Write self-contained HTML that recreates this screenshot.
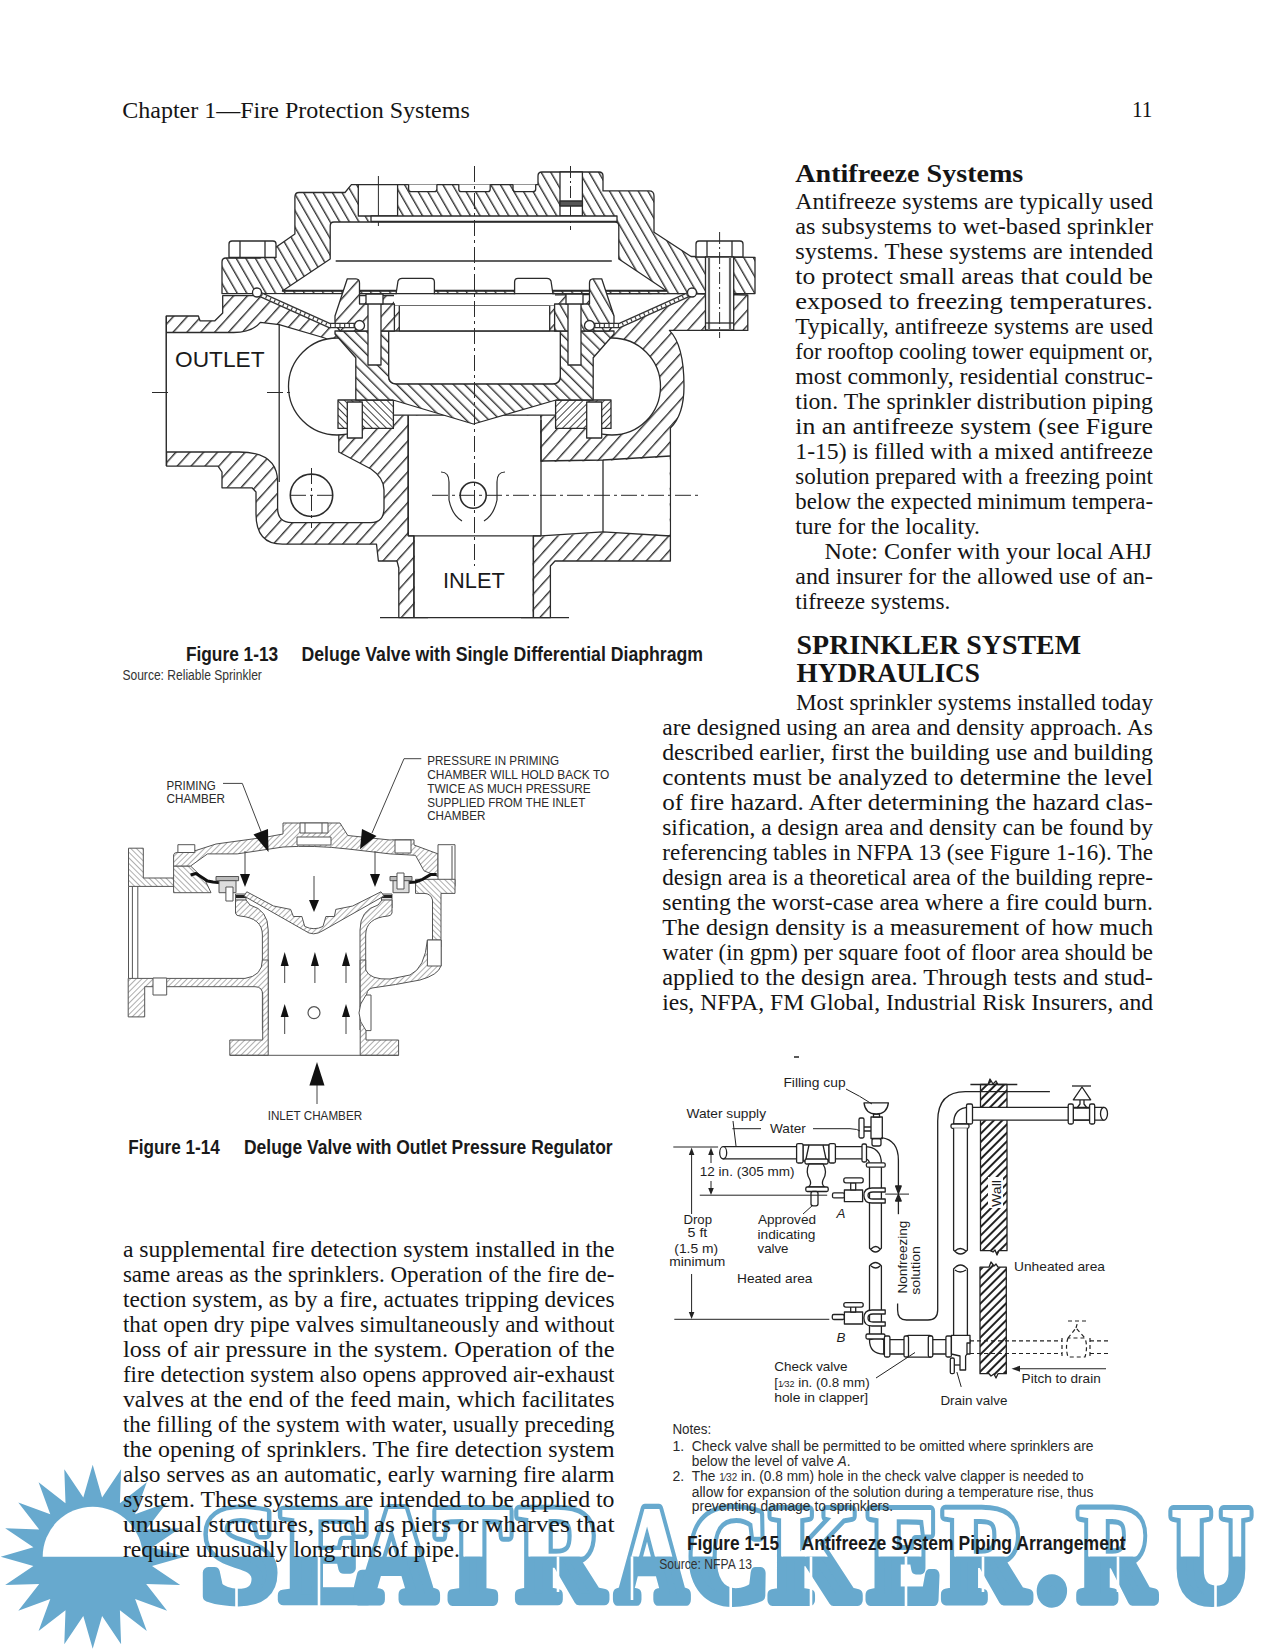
<!DOCTYPE html>
<html><head><meta charset="utf-8"><title>Fire Protection Systems</title>
<style>html,body{margin:0;padding:0;background:#fff;} svg{display:block;}</style></head>
<body>
<svg width="1275" height="1650" viewBox="0 0 1275 1650">
<rect width="1275" height="1650" fill="#fff"/>
<defs>
<pattern id="hB" patternUnits="userSpaceOnUse" width="8.3" height="10" patternTransform="rotate(-30)"><rect width="8.3" height="10" fill="#fff"/><line x1="0.7" y1="0" x2="0.7" y2="10" stroke="#333" stroke-width="1.4"/></pattern>
<pattern id="hF" patternUnits="userSpaceOnUse" width="10.3" height="10" patternTransform="rotate(42)"><rect width="10.3" height="10" fill="#fff"/><line x1="0.7" y1="0" x2="0.7" y2="10" stroke="#333" stroke-width="1.4"/></pattern>
<pattern id="hC" patternUnits="userSpaceOnUse" width="8" height="10" patternTransform="rotate(-45)"><rect width="8" height="10" fill="#fff"/><line x1="0.7" y1="0" x2="0.7" y2="10" stroke="#333" stroke-width="1.4"/></pattern>
<pattern id="hB2" patternUnits="userSpaceOnUse" width="5" height="5" patternTransform="rotate(-45)"><rect width="5" height="5" fill="#fff"/><line x1="0.5" y1="0" x2="0.5" y2="5" stroke="#444" stroke-width="1"/></pattern>
<pattern id="hF2" patternUnits="userSpaceOnUse" width="5" height="5" patternTransform="rotate(45)"><rect width="5" height="5" fill="#fff"/><line x1="0.5" y1="0" x2="0.5" y2="5" stroke="#444" stroke-width="1"/></pattern>
<pattern id="hL" patternUnits="userSpaceOnUse" width="4" height="4" patternTransform="rotate(45)"><rect width="4" height="4" fill="#fff"/><line x1="0.5" y1="0" x2="0.5" y2="4" stroke="#999" stroke-width="0.8"/></pattern>
<pattern id="hW" patternUnits="userSpaceOnUse" width="6" height="6" patternTransform="rotate(45)"><rect width="6" height="6" fill="#fff"/><line x1="1" y1="0" x2="1" y2="6" stroke="#222" stroke-width="2"/></pattern>
<pattern id="hL2" patternUnits="userSpaceOnUse" width="4" height="4" patternTransform="rotate(-45)"><rect width="4" height="4" fill="#fff"/><line x1="0.5" y1="0" x2="0.5" y2="4" stroke="#999" stroke-width="0.8"/></pattern>
</defs>

<g id="wm">
<clipPath id="wmTop"><rect x="0" y="1400" width="1275" height="156.5"/></clipPath>
<polygon points="184.7,1556.7 152.0,1547.3 180.2,1528.3 146.2,1529.5 167.1,1502.6 135.1,1514.3 146.8,1482.3 119.9,1503.2 121.1,1469.2 102.1,1497.4 92.7,1464.7 83.3,1497.4 64.3,1469.2 65.5,1503.2 38.6,1482.3 50.3,1514.3 18.3,1502.6 39.2,1529.5 5.2,1528.3 33.4,1547.3 0.7,1556.7 33.4,1566.1 5.2,1585.1 39.2,1583.9 18.3,1610.8 50.3,1599.1 38.6,1631.1 65.5,1610.2 64.3,1644.2 83.3,1616.0 92.7,1648.7 102.1,1616.0 121.1,1644.2 119.9,1610.2 146.8,1631.1 135.1,1599.1 167.1,1610.8 146.2,1583.9 180.2,1585.1 152.0,1566.1" fill="#67a9ce"/>
<path d="M42.7,1556.7 A50,50 0 0 1 142.7,1556.7 Z" fill="#fff"/>
<g font-family="Liberation Serif" font-weight="bold" font-size="136" fill="#67a9ce" stroke="#67a9ce" stroke-width="11" stroke-linejoin="round">
<text transform="translate(200.88,1599.5) scale(1.0161,1)" vector-effect="non-scaling-stroke">S</text><text transform="translate(280.88,1599.5) scale(1.0494,1)" vector-effect="non-scaling-stroke">E</text><text transform="translate(357.30,1599.5) scale(0.8021,1)" vector-effect="non-scaling-stroke">A</text><text transform="translate(435.44,1599.5) scale(0.8256,1)" vector-effect="non-scaling-stroke">T</text><text transform="translate(517.31,1599.5) scale(0.8763,1)" vector-effect="non-scaling-stroke">R</text><text transform="translate(616.42,1599.5) scale(0.7188,1)" vector-effect="non-scaling-stroke">A</text><text transform="translate(688.12,1599.5) scale(0.8272,1)" vector-effect="non-scaling-stroke">C</text><text transform="translate(770.42,1599.5) scale(0.8333,1)" vector-effect="non-scaling-stroke">K</text><text transform="translate(868.52,1599.5) scale(0.7901,1)" vector-effect="non-scaling-stroke">E</text><text transform="translate(943.36,1599.5) scale(0.8557,1)" vector-effect="non-scaling-stroke">R</text><text transform="translate(1036.62,1599.5) scale(0.9048,1)" vector-effect="non-scaling-stroke">.</text><text transform="translate(1078.59,1599.5) scale(0.7629,1)" vector-effect="non-scaling-stroke">R</text><text transform="translate(1170.62,1599.5) scale(0.8242,1)" vector-effect="non-scaling-stroke">U</text>
</g>
<g clip-path="url(#wmTop)" font-family="Liberation Serif" font-weight="bold" font-size="136" fill="#fff" stroke="#fff" stroke-width="2">
<text transform="translate(200.88,1599.5) scale(1.0161,1)">S</text><text transform="translate(280.88,1599.5) scale(1.0494,1)">E</text><text transform="translate(357.30,1599.5) scale(0.8021,1)">A</text><text transform="translate(435.44,1599.5) scale(0.8256,1)">T</text><text transform="translate(517.31,1599.5) scale(0.8763,1)">R</text><text transform="translate(616.42,1599.5) scale(0.7188,1)">A</text><text transform="translate(688.12,1599.5) scale(0.8272,1)">C</text><text transform="translate(770.42,1599.5) scale(0.8333,1)">K</text><text transform="translate(868.52,1599.5) scale(0.7901,1)">E</text><text transform="translate(943.36,1599.5) scale(0.8557,1)">R</text><text transform="translate(1036.62,1599.5) scale(0.9048,1)">.</text><text transform="translate(1078.59,1599.5) scale(0.7629,1)">R</text><text transform="translate(1170.62,1599.5) scale(0.8242,1)">U</text>
</g>
<g fill="#fff"><rect x="235.2" y="1586" width="2.6" height="22"/><rect x="317.7" y="1556.5" width="2.6" height="51.5"/><rect x="556.7" y="1556.5" width="2.6" height="35.5"/><rect x="630.7" y="1556.5" width="2.6" height="43.5"/><rect x="729.4" y="1584" width="2.6" height="24"/><rect x="809.7" y="1556.5" width="2.6" height="51.5"/><rect x="904.7" y="1556.5" width="2.6" height="51.5"/><rect x="981.7" y="1556.5" width="2.6" height="35.5"/><rect x="1116.7" y="1556.5" width="2.6" height="35.5"/><rect x="1214.2" y="1556.5" width="2.6" height="51.5"/></g>
</g>

<g id="fig13" stroke="#2b2b2b" stroke-width="1.3" stroke-linejoin="round">
<!-- body silhouette -->
<path fill="url(#hF)" d="M166.3,316 L198.4,316 L200,320.8 L214.9,320.8 L222.7,313 L222.7,295.7 L257,295.7 L474.5,295.7 L689.4,293.6 L747.8,295 L747.8,330.4 L669.4,330.4 Q684,345 684,386 Q684,415 670.4,428 L670.4,561 L555,561 L550.4,566 L550.4,617.6 L533.4,617.6 L413.9,617.6 L398.8,617.6 L398.8,568 L397,561 L378.4,561 L376.5,544.2 L282.4,544.2 Q256,544.2 256,514 L256,492 L252,487.8 L222,487.8 L222,472 L218,466.1 L166.6,466.1 Z"/>
<!-- cover -->
<path fill="url(#hB)" fill-rule="evenodd" d="M222,293.6 L222,262 Q222,258 226,258 L260.4,258 L294.9,234 L294.9,197 Q294.9,192.5 299,192.5 L345,192.5 L351.4,184.6 L538,184.6 L538,176 Q538,172 542,172 L599,172 Q603,172 603,176 L603,190.9 L649,190.9 Q654,190.9 654,196 L654,232.3 L691.1,256.5 L755,257.3 L755,293.6 Z M282.4,291 L330.2,259 L330.2,226 Q330.2,222 334,222 L615,222 Q618.8,222 618.8,226 L618.8,259 L666.6,291 Z"/>
<!-- cover details -->
<rect x="358.3" y="184.6" width="39.3" height="31.4" fill="#fff"/>
<line x1="378.4" y1="176" x2="378.4" y2="226" stroke-width="1"/>
<rect x="560" y="172" width="22.4" height="44" fill="#fff"/>
<line x1="570.5" y1="166" x2="570.5" y2="230" stroke-width="1" stroke-dasharray="12,3,2,3"/>
<rect x="560" y="201" width="22.4" height="5" fill="#555"/>
<path fill="#fff" d="M408.6,184.6 L408.6,189 Q408.6,191.7 411,191.7 L434.5,191.7 Q436.9,191.7 436.9,189 L436.9,184.6 M458.8,184.6 L458.8,189 Q458.8,191.7 461,191.7 L488,191.7 Q490.2,191.7 490.2,189 L490.2,184.6 M513,184.6 L513,189 Q513,191.7 515.5,191.7 L533,191.7 Q535.7,191.7 535.7,189 L535.7,184.6"/>
<rect x="371" y="216" width="246" height="5.5" fill="#fff"/>
<line x1="335.7" y1="261" x2="611.8" y2="261"/>
<line x1="282" y1="290.5" x2="667" y2="290.5"/>
<line x1="282" y1="293.6" x2="667" y2="293.6"/>
<!-- bolts top -->
<path fill="#fff" d="M229,257.5 L229,244 Q229,241 232,241 L273,241 Q276,241 276,244 L276,257.5 Z M240,241 L240,257.5 M265,241 L265,257.5"/>
<path fill="#fff" d="M696,257 L696,244 Q696,241 699,241 L740,241 Q743,241 743,244 L743,257 Z M707,241 L707,257 M732,241 L732,257"/>
<rect x="705.5" y="257" width="28.2" height="73" fill="#fff"/>
<line x1="709" y1="257" x2="709" y2="330" stroke-width="2.2" stroke="#666"/>
<line x1="730" y1="257" x2="730" y2="330" stroke-width="2.2" stroke="#666"/>
<line x1="719.6" y1="232" x2="719.6" y2="338" stroke-width="1" stroke-dasharray="12,3,2,3"/>
<line x1="705.5" y1="323" x2="733.7" y2="323"/>
<!-- white chamber over diaphragm (left/right) -->
<path fill="#fff" stroke="none" d="M258,294.5 L329.4,325.5 L356,325.5 L356,294.5 Z"/>
<path fill="#fff" stroke="none" d="M691,294.5 L619.6,325.5 L593,325.5 L593,294.5 Z"/>
<!-- outlet void -->
<path fill="#fff" d="M166.3,332.5 L233.7,332.5 Q252,332.5 260.4,322.4 L279.2,324.7 L324.7,338 L338.8,345 L338.8,452 L371,469 Q384,478 384,490 L384,508 Q384,522.6 370.8,522.6 L291.8,522.6 Q277.6,522.6 277.6,508 L277.6,482 Q277.6,452 239,452 L166.6,452"/>
<line x1="279.2" y1="324.7" x2="279.2" y2="482"/>
<circle cx="337" cy="386.5" r="48.5" fill="#fff"/>
<!-- right sphere -->
<circle cx="612" cy="386.5" r="48.5" fill="#fff"/>
<!-- inlet void -->
<path fill="#fff" stroke="none" d="M409,415.5 L540,415.5 L540,462 L603,461 L669.6,457 L669.6,535 L603,532.6 L540,536.6 L532.6,536.6 L532.6,617 L414.7,617 L414.7,536.6 L409,536.6 Z"/>
<path fill="none" d="M408.2,415 L408.2,535.8 L413.9,535.8 L413.9,617.6 M533.4,617.6 L533.4,535.8 L541,535.8 L603,531.9 L670.4,536 M670.4,456 L603,460 L541,461 L541,420"/>
<line x1="541" y1="415" x2="541" y2="535.8"/>
<line x1="603" y1="460" x2="603" y2="532"/>
<line x1="408.2" y1="535.8" x2="541" y2="535.8"/>
<line x1="413.9" y1="535.8" x2="413.9" y2="617.6"/>
<line x1="533.4" y1="535.8" x2="533.4" y2="617.6"/>
<line x1="408.2" y1="415" x2="408.2" y2="535.8"/>
<!-- seat plate -->
<rect x="393" y="400" width="163" height="15.2" fill="#fff"/>
<!-- seat rings -->
<rect x="338" y="400" width="55.4" height="28.4" fill="url(#hB2)"/>
<rect x="555.6" y="400" width="55.4" height="28.4" fill="url(#hF2)"/>
<rect x="347.3" y="402" width="15" height="36" fill="#fff"/>
<rect x="586.7" y="402" width="15" height="36" fill="#fff"/>
<!-- clapper -->
<path fill="url(#hC)" d="M335,331 L388.7,331 L388.7,376 Q388.7,383.8 396,383.8 L553,383.8 Q560.3,383.8 560.3,376 L560.3,331 L614,331 L614,334 L593.2,357.8 L593.2,400 L556,400 L473.4,424 L393,400 L355.8,400 L355.8,357.8 L335,334 Z"/>
<path fill="#fff" d="M388.7,331 L388.7,376 Q388.7,383.8 396,383.8 L553,383.8 Q560.3,383.8 560.3,376 L560.3,331 Z"/>
<rect x="399.3" y="305.4" width="150.4" height="25.4" fill="#fff"/>
<path fill="#fff" d="M394.4,305 L398,281 Q399,278.4 402,278.4 L431,278.4 Q434.4,278.4 434.4,282 L434.4,305 Z"/>
<path fill="#fff" d="M554.6,305 L551,281 Q550,278.4 547,278.4 L518,278.4 Q514.6,278.4 514.6,282 L514.6,305 Z"/>
<rect x="394" y="294.3" width="161" height="11" fill="#fff" stroke="none"/>
<line x1="394" y1="293.6" x2="555" y2="293.6"/>
<!-- clamps -->
<path fill="url(#hF)" d="M347.3,278.8 L356,278.8 Q359.5,279 359.5,283 L359.5,304 L394.4,304 L394.4,331 L340,331 L335,324 L335,316 Z"/>
<path fill="url(#hB)" d="M601.7,278.8 L593,278.8 Q589.5,279 589.5,283 L589.5,304 L554.6,304 L554.6,331 L609,331 L614,324 L614,316 Z"/>
<rect x="368" y="294" width="13" height="71" fill="#fff"/>
<rect x="366" y="294" width="17" height="10" fill="#fff"/>
<rect x="568" y="294" width="13" height="71" fill="#fff"/>
<rect x="566" y="294" width="17" height="10" fill="#fff"/>
<!-- diaphragm -->
<path fill="none" stroke="#333" stroke-width="5.5" d="M257,293 L329.4,325.5 L358,325.5"/>
<path fill="none" stroke="#fff" stroke-width="3" d="M257,293 L329.4,325.5 L358,325.5"/>
<path fill="none" stroke="#444" stroke-width="3" stroke-dasharray="1.2,3.5" d="M257,293 L329.4,325.5 L358,325.5"/>
<path fill="none" stroke="#333" stroke-width="5.5" d="M692,293 L619.6,325.5 L591,325.5"/>
<path fill="none" stroke="#fff" stroke-width="3" d="M692,293 L619.6,325.5 L591,325.5"/>
<path fill="none" stroke="#444" stroke-width="3" stroke-dasharray="1.2,3.5" d="M692,293 L619.6,325.5 L591,325.5"/>
<circle cx="257" cy="292.5" r="4.5" fill="#fff"/>
<circle cx="359.5" cy="325.5" r="5" fill="#fff"/>
<circle cx="692" cy="292.5" r="4.5" fill="#fff"/>
<circle cx="589.5" cy="325.5" r="5" fill="#fff"/>
<!-- inlet flange bottom ledges -->
<line x1="380" y1="617.6" x2="428" y2="617.6"/>
<line x1="521" y1="617.6" x2="569" y2="617.6"/>
<!-- small circles -->
<circle cx="311.5" cy="495.3" r="21.2" fill="none" stroke-width="1.6"/>
<circle cx="473.2" cy="495.3" r="13" fill="none" stroke-width="1.6"/>
<path fill="none" stroke-width="1.2" d="M441,472 Q449,472 449,482 L449,500 Q452,515 462,521 M505,472 Q497,472 497,482 L497,500 Q494,515 484,521"/>
<!-- center lines -->
<g stroke-width="1" stroke-dasharray="16,4,3,4">
<line x1="474.5" y1="166" x2="474.5" y2="566"/>
<line x1="432" y1="495.3" x2="700" y2="495.3"/>
<line x1="290" y1="495.3" x2="336" y2="495.3"/>
<line x1="311.5" y1="468" x2="311.5" y2="528"/>
<line x1="152" y1="392.5" x2="172" y2="392.5"/>
<line x1="267" y1="392.5" x2="290" y2="392.5"/>
</g>
<line x1="166.3" y1="316" x2="166.3" y2="466.1"/>
<g font-family="Liberation Sans" font-size="22.5" fill="#1a1a1a" stroke="none">
<text x="175" y="367.3" textLength="89.5" lengthAdjust="spacingAndGlyphs">OUTLET</text>
<text x="443" y="587.5" textLength="61.7" lengthAdjust="spacingAndGlyphs">INLET</text>
</g>
</g>

<g id="fig14" stroke="#555" stroke-width="1" stroke-linejoin="round">
<!-- outlet flange upper -->
<path fill="url(#hL2)" d="M128.5,848.2 L143.3,848.2 L143.3,878 L176,878 L176,886.4 L128.5,886.4 Z"/>
<!-- cover left body piece -->
<path fill="url(#hL2)" d="M173.6,866 L190.6,866 L205,880 L211,892.7 L173.6,892.7 Z"/>
<!-- cover arch -->
<path fill="url(#hL)" d="M173.6,866 L173.6,855 Q174,852.5 177,852.5 L196.2,850.4 L216,844 L266.8,837 L283,834 L283,823 L340,823 L347.8,835.5 L390,840 L391.5,839.8 L414,839.8 L414,845 L438,853.9 L438,876.5 L424,870.8 L415.5,855.3 L390,853.9 L348,849 Q314,845 283,847 L237.2,853.9 L207.5,853.9 L190.6,866 Z"/>
<rect x="300" y="823" width="28" height="10" fill="#fff"/>
<line x1="305" y1="823" x2="305" y2="833"/><line x1="322" y1="823" x2="322" y2="833"/>
<rect x="297" y="837" width="34" height="8" fill="#fff"/>
<rect x="395" y="840" width="16" height="13" fill="#fff"/>
<!-- bolt heads -->
<rect x="177.9" y="844.7" width="16.9" height="7.8" fill="#fff"/>
<rect x="438" y="844.7" width="17" height="41.7" fill="#fff"/>
<line x1="452" y1="846" x2="452" y2="885" stroke="#888" stroke-width="1.5"/>
<!-- right flange + body -->
<path fill="url(#hL2)" d="M415.5,879.3 L455,879.3 L455,893.4 L441,893.4 L441,947 L432.5,947 L432.5,900 Q431,893.4 424,893.4 L415.5,893.4 Z"/>
<line x1="432.5" y1="945.7" x2="441" y2="945.7"/>
<!-- diaphragms -->
<path fill="none" stroke="#111" stroke-width="3" d="M190.6,875 L196,873.5 L207.5,881 L213,882 L223,883 L223,887"/>
<path fill="none" stroke="#111" stroke-width="3" d="M436.7,874.4 L431,874.4 L422.6,879.3 L415.5,882 L405.6,882.8 L405.6,886"/>
<!-- seat blocks -->
<rect x="216" y="876.5" width="22.6" height="4.2" fill="#bbb"/>
<rect x="219" y="880.7" width="17" height="12" fill="#ddd"/>
<rect x="225.9" y="887" width="7.1" height="14" fill="#fff"/>
<rect x="390" y="876.5" width="22" height="4.2" fill="#bbb"/>
<rect x="393" y="880.7" width="16" height="12" fill="#ddd"/>
<rect x="397" y="873" width="7" height="16" fill="#fff"/>
<rect x="235.5" y="894" width="10.5" height="14" fill="#ddd"/>
<rect x="381.5" y="894" width="10.5" height="14" fill="#ddd"/>
<rect x="236" y="895" width="11" height="3" fill="#222" stroke="none"/>
<rect x="381" y="895" width="11" height="3" fill="#222" stroke="none"/>
<!-- seat lower rings -->
<path fill="url(#hL)" d="M235.5,900 L235.5,913 Q236,916 240,916 Q262.4,918 262.4,935 L262.4,1030 L268.2,1030 L268.2,930 Q268.2,910 250,905 L246,900 Z"/>
<path fill="url(#hL)" d="M392,900 L392,913 Q391,916 388,916 Q365.7,918 365.7,935 L365.7,1030 L360,1030 L360,930 Q360,910 378,905 L382,900 Z"/>
<!-- dish -->
<path fill="url(#hL)" d="M246.8,891.8 L273.6,906 L290.6,909.4 L293.4,916.5 L301.9,916.5 L304.7,926.4 Q314,931 323,926.4 L325.9,916.5 L334.4,916.5 L335.8,909.4 L352.7,906 L381,891.8 L384,896 L323,930.6 Q313.2,937 304.7,930.6 L244,896 Z"/>
<!-- outlet pipe lines -->
<line x1="128.5" y1="886.4" x2="128.5" y2="978.4"/>
<line x1="132.4" y1="886.4" x2="132.4" y2="978.4"/>
<line x1="137.8" y1="886.4" x2="137.8" y2="978.4"/>
<!-- lower outlet flange + wall -->
<path fill="url(#hL)" d="M128.2,978.4 L245,978.4 Q262.4,976 262.4,960 L268.2,960 L268.2,1055.3 L229.8,1055.3 L229.8,1040 L262.7,1040 L262.7,995 Q262.7,986.7 255,986.7 L144.7,986.7 L144.7,1016.9 L128.2,1016.9 Z"/>
<rect x="153" y="978" width="13.7" height="17" fill="#fff"/>
<!-- right inlet wall + flange -->
<path fill="url(#hL)" d="M360.2,960 L365.7,960 L365.7,970 Q370,980 390,979 L410,975 Q425,968 427.4,940 L441,940 L441,966 Q438,975 420,980 Q395,985 372,988 Q366,989 366,1000 L366,1040 L398.6,1040 L398.6,1055.3 L360.2,1055.3 Z"/>
<rect x="427.4" y="940" width="13.8" height="26" fill="#fff"/>
<path fill="#fff" d="M366,995 L371,995 L371,1030.6 L366,1030.6 Q352,1013 366,995 Z"/>
<line x1="229.8" y1="1055.3" x2="398.6" y2="1055.3"/>
<!-- arrows -->
<g stroke="#444" stroke-width="1">
<line x1="245" y1="851" x2="245" y2="874"/>
<line x1="314" y1="876" x2="314" y2="900"/>
<line x1="375" y1="851" x2="375" y2="874"/>
<line x1="284.7" y1="966" x2="284.7" y2="983"/>
<line x1="314.9" y1="966" x2="314.9" y2="983"/>
<line x1="346" y1="966" x2="346" y2="983"/>
<line x1="284.7" y1="1017" x2="284.7" y2="1034"/>
<line x1="346" y1="1017" x2="346" y2="1034"/>
<line x1="317" y1="1085" x2="317" y2="1104"/>
<line x1="223" y1="783.4" x2="242.3" y2="783.4"/>
<line x1="242.3" y1="783.4" x2="262" y2="834"/>
<line x1="421.3" y1="758.7" x2="404" y2="758.7"/>
<line x1="404" y1="758.7" x2="372" y2="833"/>
</g>
<g fill="#111" stroke="none">
<path d="M240,874 L250,874 L245,887 Z"/>
<path d="M309,900 L319,900 L314,912 Z"/>
<path d="M370,874 L380,874 L375,887 Z"/>
<path d="M280.7,966 L288.7,966 L284.7,952 Z"/>
<path d="M310.9,966 L318.9,966 L314.9,952 Z"/>
<path d="M342,966 L350,966 L346,952 Z"/>
<path d="M280.7,1017 L288.7,1017 L284.7,1004 Z"/>
<path d="M342,1017 L350,1017 L346,1004 Z"/>
<path d="M309.4,1085.5 L324.5,1085.5 L317,1062 Z"/>
<path d="M253.5,834.5 L268,829 L268.5,852 Z"/>
<path d="M362,829 L376.5,836 L360,849.3 Z"/>
</g>
<circle cx="314" cy="1012.7" r="6" fill="#fff" stroke="#555" stroke-width="1.2"/>
<g font-family="Liberation Sans" font-size="12.8" fill="#2a2a2a" stroke="none">
<text x="166.5" y="789.6" textLength="49.3" lengthAdjust="spacingAndGlyphs">PRIMING</text>
<text x="166.5" y="803.2" textLength="58.5" lengthAdjust="spacingAndGlyphs">CHAMBER</text>
<text x="427.2" y="764.8" textLength="132" lengthAdjust="spacingAndGlyphs">PRESSURE IN PRIMING</text>
<text x="427.2" y="778.7" textLength="182.1" lengthAdjust="spacingAndGlyphs">CHAMBER WILL HOLD BACK TO</text>
<text x="427.2" y="792.5" textLength="163.5" lengthAdjust="spacingAndGlyphs">TWICE AS MUCH PRESSURE</text>
<text x="427.2" y="806.7" textLength="158.1" lengthAdjust="spacingAndGlyphs">SUPPLIED FROM THE INLET</text>
<text x="427.2" y="820" textLength="58.1" lengthAdjust="spacingAndGlyphs">CHAMBER</text>
<text x="267.7" y="1119.8" textLength="94.4" lengthAdjust="spacingAndGlyphs">INLET CHAMBER</text>
</g>
</g>

<g id="fig15" stroke="#222" stroke-width="1.3" fill="none" stroke-linejoin="round">
<line x1="794" y1="1057" x2="799" y2="1057" stroke-width="1.5"/>
<!-- wall -->
<path fill="url(#hW)" d="M980.5,1084.5 L988,1084.5 L990,1079 L993,1084 L996,1081 L998,1084.5 L1007,1084.5 L1007,1250.7 L999,1250.7 L997,1255 L995,1250 L993,1252 L990,1250.7 L980.5,1250.7 Z"/>
<path fill="url(#hW)" d="M980,1267.2 L989,1267.2 L991,1262 L994,1266 L996,1264 L998,1267.2 L1006.3,1267.2 L1006.3,1373.7 L998,1373.7 L996,1378 L994,1374 L991,1376 L989,1373.7 L980,1373.7 Z"/>
<line x1="970.4" y1="1084.5" x2="1017.3" y2="1084.5"/>
<rect x="988" y="1177" width="15" height="31" fill="#fff" stroke="none"/>
<!-- big outer return line -->
<path d="M1049.9,1091.6 L965.3,1091.6 Q937.7,1091.6 937.7,1121 L937.7,1310 Q937.7,1320 928,1320 L906.4,1320 Q897.6,1320 897.6,1310 L897.6,1303.4"/>
<!-- upper right pipe -->
<rect x="969.3" y="1107.3" width="134.7" height="12.9" fill="#fff"/>
<ellipse cx="1104" cy="1113.7" rx="3.5" ry="6.4" fill="#fff"/>
<path fill="#fff" d="M1073.3,1108 L1089.6,1108 L1089.6,1120 L1073.3,1120 Z"/>
<rect x="1068.2" y="1104" width="5.1" height="20" rx="1.5" fill="#fff"/>
<rect x="1089.6" y="1104" width="5.1" height="20" rx="1.5" fill="#fff"/>
<path fill="#fff" d="M1073.3,1099.8 L1090.7,1099.8 L1082,1087 Z"/>
<line x1="1072" y1="1086" x2="1091" y2="1086"/>
<path d="M1080,1100 L1080,1104 L1077,1108 M1084,1100 L1084,1104 L1087,1108"/>
<!-- right elbow + vertical pipe -->
<path fill="#fff" d="M969.3,1107.3 Q953.6,1107.3 953.6,1124 L967.4,1124 Q967.4,1120.2 969.3,1120.2 Z"/>
<rect x="966.5" y="1104" width="6" height="20" rx="1.5" fill="#fff"/>
<rect x="951" y="1124" width="18" height="4.3" rx="1.5" fill="#fff"/>
<path fill="#fff" d="M953.6,1128.3 L953.6,1250 Q960.5,1258 967.4,1250 L967.4,1128.3"/>
<path d="M955,1251 Q960,1246 966,1251"/>
<path fill="#fff" d="M953.6,1336.4 L953.6,1269 Q960.5,1261 967.4,1269 L967.4,1336.4"/>
<path d="M955,1270 Q960,1274 966,1270"/>
<!-- left vertical pipe -->
<path fill="#fff" d="M869.5,1164 L869.5,1248 Q875.5,1256 881.4,1248 L881.4,1164"/>
<path d="M871,1249 Q876,1244 880,1249"/>
<path fill="#fff" d="M869.5,1340 L869.5,1266 Q875.5,1259 881.4,1266 L881.4,1340"/>
<path d="M871,1266 Q876,1270 880,1266"/>
<!-- supply pipe -->
<rect x="723.2" y="1146.7" width="140.8" height="12.2" fill="#fff"/>
<ellipse cx="723.2" cy="1152.8" rx="3.5" ry="6.1" fill="#fff"/>
<path fill="#fff" d="M803,1145 L829,1145 L829,1161 L803,1161 Z"/>
<path d="M809,1145 L806,1159 M823,1145 L826,1159"/>
<rect x="796.6" y="1143.6" width="6.4" height="19.4" rx="1.5" fill="#fff"/>
<rect x="829" y="1143.6" width="6.4" height="19.4" rx="1.5" fill="#fff"/>
<!-- elbow left -->
<path fill="#fff" d="M864,1146.7 Q881.4,1146.7 881.4,1164 L869.5,1164 Q869.5,1158.9 864,1158.9 Z"/>
<rect x="862" y="1144" width="4.5" height="18" rx="1.5" fill="#fff"/>
<rect x="866.4" y="1162.8" width="18.8" height="4.4" rx="1.5" fill="#fff"/>
<!-- cup valve + cup -->
<rect x="872" y="1138.5" width="9" height="7.5" rx="2" fill="#fff"/>
<rect x="871" y="1117" width="11.3" height="21.5" fill="#fff"/>
<rect x="859" y="1118" width="5" height="20" rx="1.5" fill="#fff"/>
<path d="M864,1127 L871,1127 M864,1131 L871,1131"/>
<rect x="873.5" y="1114" width="6" height="3" fill="#fff"/>
<path fill="#fff" d="M864,1102.8 L888.4,1102.8 Q887,1114 876.2,1114 Q865.4,1114 864,1102.8 Z"/>
<!-- return line with arrows -->
<path d="M881.4,1137.7 Q898.4,1140 898.4,1160.3 L898.4,1187"/>
<path fill="#222" d="M895.6,1186 L901.2,1186 L898.4,1193.5 Z"/>
<path d="M898.4,1214.2 L898.4,1200"/>
<path fill="#222" d="M895.6,1201 L901.2,1201 L898.4,1194.5 Z"/>
<line x1="885.2" y1="1194.1" x2="909" y2="1194.1" stroke-width="1"/>
<!-- U clamp A -->
<path fill="#fff" d="M885.2,1188 L872,1188 Q863.9,1188 863.9,1195.5 Q863.9,1203 872,1203 L885.2,1203 L885.2,1199 L873,1199 Q868,1199 868,1195.5 Q868,1192 873,1192 L885.2,1192 Z"/>
<!-- valve A -->
<rect x="832.5" y="1192.9" width="12" height="5" rx="1.5" fill="#fff"/>
<path fill="#fff" d="M844.4,1190 L862.6,1190 L862.6,1201.7 L844.4,1201.7 Z"/>
<rect x="850.7" y="1182.8" width="5" height="7" fill="#fff"/>
<rect x="843.8" y="1177.8" width="19.4" height="5" rx="2" fill="#fff"/>
<!-- approved valve -->
<rect x="805" y="1159" width="23" height="5" rx="1.5" fill="#fff"/>
<path fill="#fff" d="M809,1164 L823,1164 Q828,1172 823,1180 Q821,1185 825,1187 L808,1187 Q812,1185 810,1180 Q805,1172 809,1164 Z"/>
<rect x="805.8" y="1187" width="22.4" height="4.5" rx="1.5" fill="#fff"/>
<rect x="811" y="1191.5" width="7" height="14.3" rx="2" fill="#fff"/>
<line x1="813" y1="1205" x2="803" y2="1214" stroke-width="1"/>
<!-- dimension lines -->
<g stroke-width="1">
<line x1="673.3" y1="1147" x2="718.1" y2="1147"/>
<line x1="699.8" y1="1195.2" x2="827.2" y2="1195.2"/>
<line x1="674.3" y1="1319.3" x2="829.3" y2="1319.3"/>
<line x1="691.6" y1="1152" x2="691.6" y2="1214"/>
<line x1="691.6" y1="1274" x2="691.6" y2="1313"/>
<line x1="711" y1="1152" x2="711" y2="1163"/>
<line x1="711" y1="1181" x2="711" y2="1190"/>
</g>
<g fill="#222" stroke="none">
<path d="M688.8,1155 L694.4,1155 L691.6,1147.5 Z"/>
<path d="M688.8,1312 L694.4,1312 L691.6,1319 Z"/>
<path d="M708.2,1155 L713.8,1155 L711,1147.5 Z"/>
<path d="M708.2,1188 L713.8,1188 L711,1195 Z"/>
</g>
<!-- lower assembly -->
<path fill="#fff" d="M869.5,1340 Q869.5,1354 884,1354 L884,1339.7 Q881.4,1339.7 881.4,1336 Z"/>
<rect x="866" y="1334" width="19" height="5" rx="1.5" fill="#fff"/>
<path fill="#fff" d="M885.2,1310 L872,1310 Q863.9,1310 863.9,1318 Q863.9,1326 872,1326 L885.2,1326 L885.2,1322 L873,1322 Q868,1322 868,1318 Q868,1314 873,1314 L885.2,1314 Z"/>
<rect x="832.3" y="1314.5" width="12" height="5" rx="1.5" fill="#fff"/>
<path fill="#fff" d="M844.4,1312 L862.6,1312 L862.6,1324 L844.4,1324 Z"/>
<rect x="850.7" y="1305" width="5" height="7" fill="#fff"/>
<rect x="843.8" y="1302.6" width="19.4" height="4.5" rx="2" fill="#fff"/>
<rect x="884" y="1339.7" width="86" height="14.3" fill="#fff"/>
<rect x="906.4" y="1335.3" width="25.2" height="21.9" rx="2" fill="#fff"/>
<rect x="884.4" y="1336" width="5.5" height="21" rx="1.5" fill="#fff"/>
<rect x="904" y="1336" width="4.5" height="21" rx="1.5" fill="#fff"/>
<rect x="928.3" y="1336" width="4.5" height="21" rx="1.5" fill="#fff"/>
<rect x="945.9" y="1336" width="5.5" height="21" rx="1.5" fill="#fff"/>
<path fill="#fff" d="M951.4,1335.3 L970,1335.3 L970,1343 L967,1343 L967,1354 L965.6,1356 L965.6,1370 L960,1370 L960,1356 L951.4,1354 Z"/>
<rect x="950.3" y="1358" width="4" height="15.7" rx="1.5" fill="#fff"/>
<line x1="954.3" y1="1365" x2="960" y2="1365"/>
<!-- dashed pipe -->
<g stroke-dasharray="4,3" stroke-width="1.2">
<line x1="970" y1="1340.8" x2="1062" y2="1340.8"/>
<line x1="970" y1="1353.5" x2="1062" y2="1353.5"/>
<path d="M1062,1338 L1062,1357 M1068,1338 Q1065,1347 1068,1357 L1085,1357 Q1088,1347 1085,1338 Z M1068,1338 L1076,1328 L1085,1338 M1068,1321 L1088,1321 M1076,1328 L1078,1321 M1090,1338 L1090,1357 M1090,1340.8 L1108,1340.8 M1090,1353.5 L1108,1353.5"/>
</g>
<!-- pitch arrow -->
<line x1="1106" y1="1368.7" x2="1018" y2="1368.7" stroke-width="1.1"/>
<path fill="#222" stroke="none" d="M1011.5,1368.7 L1020,1365.7 L1020,1371.7 Z"/>
<!-- leaders -->
<g stroke-width="1">
<path d="M846,1089 Q860,1096 872,1104"/>
<path d="M733,1121 L736,1146"/>
<line x1="732.4" y1="1128.7" x2="761" y2="1128.7"/>
<path d="M813,1128.7 L850,1128.7 Q858,1129 860,1131"/>
<line x1="876" y1="1378" x2="915" y2="1352.5"/>
<line x1="961.2" y1="1386.9" x2="956.9" y2="1372"/>
</g>
<!-- labels -->
<g font-family="Liberation Sans" font-size="13.4" fill="#1e1e1e" stroke="none">
<text x="783.4" y="1086.5" textLength="62.2" lengthAdjust="spacingAndGlyphs">Filling cup</text>
<text x="686.5" y="1118.1" textLength="79.5" lengthAdjust="spacingAndGlyphs">Water supply</text>
<text x="770" y="1132.8" textLength="35.8" lengthAdjust="spacingAndGlyphs">Water</text>
<text x="699.8" y="1176.2" textLength="94.8" lengthAdjust="spacingAndGlyphs">12 in. (305 mm)</text>
<text x="683.4" y="1224.2" textLength="28.6" lengthAdjust="spacingAndGlyphs">Drop</text>
<text x="687.5" y="1237.3" textLength="19.8" lengthAdjust="spacingAndGlyphs">5 ft</text>
<text x="674.3" y="1252.6" textLength="43.8" lengthAdjust="spacingAndGlyphs">(1.5 m)</text>
<text x="669.2" y="1265.9" textLength="56.1" lengthAdjust="spacingAndGlyphs">minimum</text>
<text x="757.9" y="1224.2" textLength="58.1" lengthAdjust="spacingAndGlyphs">Approved</text>
<text x="757.5" y="1238.8" textLength="57.9" lengthAdjust="spacingAndGlyphs">indicating</text>
<text x="757.5" y="1252.6" textLength="31" lengthAdjust="spacingAndGlyphs">valve</text>
<text x="836.4" y="1218" font-style="italic">A</text>
<text x="737" y="1283.2" textLength="75.5" lengthAdjust="spacingAndGlyphs">Heated area</text>
<text x="836.4" y="1342.3" font-style="italic">B</text>
<text x="774.2" y="1370.9" textLength="73.4" lengthAdjust="spacingAndGlyphs">Check valve</text>
<text x="774.2" y="1387.2">[<tspan font-size="9">1⁄32</tspan> in. (0.8 mm)</text>
<text x="774.2" y="1401.5" textLength="94" lengthAdjust="spacingAndGlyphs">hole in clapper]</text>
<text x="940.4" y="1404.5" textLength="67" lengthAdjust="spacingAndGlyphs">Drain valve</text>
<text x="1014" y="1271.2" textLength="91" lengthAdjust="spacingAndGlyphs">Unheated area</text>
<text x="1021.6" y="1382.5" textLength="79.1" lengthAdjust="spacingAndGlyphs">Pitch to drain</text>
<text transform="translate(1000.5,1207) rotate(-90)" font-size="12.5" textLength="27" lengthAdjust="spacingAndGlyphs">Wall</text>
<text transform="translate(906.5,1293.6) rotate(-90)" textLength="73" lengthAdjust="spacingAndGlyphs">Nonfreezing</text>
<text transform="translate(920,1294.7) rotate(-90)" textLength="48.5" lengthAdjust="spacingAndGlyphs">solution</text>
</g>
<g font-family="Liberation Sans" font-size="14" fill="#2a2a2a" stroke="none">
<text x="672.4" y="1434" textLength="38.8" lengthAdjust="spacingAndGlyphs">Notes:</text>
<text x="672.4" y="1450.6">1.</text>
<text x="691.8" y="1450.6" textLength="401.7" lengthAdjust="spacingAndGlyphs">Check valve shall be permitted to be omitted where sprinklers are</text>
<text x="691.8" y="1465.8" textLength="158.8" lengthAdjust="spacingAndGlyphs">below the level of valve <tspan font-style="italic">A</tspan>.</text>
<text x="672.4" y="1480.6">2.</text>
<text x="691.8" y="1480.6" textLength="391.8" lengthAdjust="spacingAndGlyphs">The <tspan font-size="10">1⁄32</tspan> in. (0.8 mm) hole in the check valve clapper is needed to</text>
<text x="691.8" y="1496.5" textLength="401.7" lengthAdjust="spacingAndGlyphs">allow for expansion of the solution during a temperature rise, thus</text>
<text x="691.8" y="1510.6" textLength="201.2" lengthAdjust="spacingAndGlyphs">preventing damage to sprinklers.</text>
</g>
</g>

<g id="txt">
<text x="122.2" y="117.6" font-family="Liberation Serif" font-size="23.5" font-weight="normal" fill="#151515" textLength="347.6" lengthAdjust="spacingAndGlyphs">Chapter 1—Fire Protection Systems</text>
<text x="1132" y="117.2" font-family="Liberation Serif" font-size="23.5" font-weight="normal" fill="#151515" textLength="20.5" lengthAdjust="spacingAndGlyphs">11</text>
<text x="795.3" y="181.6" font-family="Liberation Serif" font-size="24.5" font-weight="bold" fill="#151515" textLength="228" lengthAdjust="spacingAndGlyphs">Antifreeze Systems</text>
<text x="795.3" y="208.6" font-family="Liberation Serif" font-size="23" font-weight="normal" fill="#151515" textLength="357.7" lengthAdjust="spacingAndGlyphs">Antifreeze systems are typically used</text>
<text x="795.3" y="233.6" font-family="Liberation Serif" font-size="23" font-weight="normal" fill="#151515" textLength="357.7" lengthAdjust="spacingAndGlyphs">as subsystems to wet-based sprinkler</text>
<text x="795.3" y="258.6" font-family="Liberation Serif" font-size="23" font-weight="normal" fill="#151515" textLength="357.7" lengthAdjust="spacingAndGlyphs">systems. These systems are intended</text>
<text x="795.3" y="283.6" font-family="Liberation Serif" font-size="23" font-weight="normal" fill="#151515" textLength="357.7" lengthAdjust="spacingAndGlyphs">to protect small areas that could be</text>
<text x="795.3" y="308.6" font-family="Liberation Serif" font-size="23" font-weight="normal" fill="#151515" textLength="357.7" lengthAdjust="spacingAndGlyphs">exposed to freezing temperatures.</text>
<text x="795.3" y="333.6" font-family="Liberation Serif" font-size="23" font-weight="normal" fill="#151515" textLength="357.7" lengthAdjust="spacingAndGlyphs">Typically, antifreeze systems are used</text>
<text x="795.3" y="358.6" font-family="Liberation Serif" font-size="23" font-weight="normal" fill="#151515" textLength="357.7" lengthAdjust="spacingAndGlyphs">for rooftop cooling tower equipment or,</text>
<text x="795.3" y="383.6" font-family="Liberation Serif" font-size="23" font-weight="normal" fill="#151515" textLength="357.7" lengthAdjust="spacingAndGlyphs">most commonly, residential construc-</text>
<text x="795.3" y="408.6" font-family="Liberation Serif" font-size="23" font-weight="normal" fill="#151515" textLength="357.7" lengthAdjust="spacingAndGlyphs">tion. The sprinkler distribution piping</text>
<text x="795.3" y="433.6" font-family="Liberation Serif" font-size="23" font-weight="normal" fill="#151515" textLength="357.7" lengthAdjust="spacingAndGlyphs">in an antifreeze system (see Figure</text>
<text x="795.3" y="458.6" font-family="Liberation Serif" font-size="23" font-weight="normal" fill="#151515" textLength="357.7" lengthAdjust="spacingAndGlyphs">1-15) is filled with a mixed antifreeze</text>
<text x="795.3" y="483.6" font-family="Liberation Serif" font-size="23" font-weight="normal" fill="#151515" textLength="357.7" lengthAdjust="spacingAndGlyphs">solution prepared with a freezing point</text>
<text x="795.3" y="508.6" font-family="Liberation Serif" font-size="23" font-weight="normal" fill="#151515" textLength="357.7" lengthAdjust="spacingAndGlyphs">below the expected minimum tempera-</text>
<text x="795.3" y="533.6" font-family="Liberation Serif" font-size="23" font-weight="normal" fill="#151515" textLength="184.7" lengthAdjust="spacingAndGlyphs">ture for the locality.</text>
<text x="824.4" y="558.6" font-family="Liberation Serif" font-size="23" font-weight="normal" fill="#151515" textLength="327.6" lengthAdjust="spacingAndGlyphs">Note: Confer with your local AHJ</text>
<text x="795.3" y="583.6" font-family="Liberation Serif" font-size="23" font-weight="normal" fill="#151515" textLength="357.7" lengthAdjust="spacingAndGlyphs">and insurer for the allowed use of an-</text>
<text x="795.3" y="608.6" font-family="Liberation Serif" font-size="23" font-weight="normal" fill="#151515" textLength="155.1" lengthAdjust="spacingAndGlyphs">tifreeze systems.</text>
<text x="796.6" y="654.3" font-family="Liberation Serif" font-size="26.5" font-weight="bold" fill="#151515" textLength="284.4" lengthAdjust="spacingAndGlyphs">SPRINKLER SYSTEM</text>
<text x="796.6" y="681.5" font-family="Liberation Serif" font-size="26.5" font-weight="bold" fill="#151515" textLength="183.4" lengthAdjust="spacingAndGlyphs">HYDRAULICS</text>
<text x="795.9" y="709.6" font-family="Liberation Serif" font-size="23" font-weight="normal" fill="#151515" textLength="357.1" lengthAdjust="spacingAndGlyphs">Most sprinkler systems installed today</text>
<text x="662.2" y="734.6" font-family="Liberation Serif" font-size="23" font-weight="normal" fill="#151515" textLength="490.8" lengthAdjust="spacingAndGlyphs">are designed using an area and density approach. As</text>
<text x="662.2" y="759.6" font-family="Liberation Serif" font-size="23" font-weight="normal" fill="#151515" textLength="490.8" lengthAdjust="spacingAndGlyphs">described earlier, first the building use and building</text>
<text x="662.2" y="784.6" font-family="Liberation Serif" font-size="23" font-weight="normal" fill="#151515" textLength="490.8" lengthAdjust="spacingAndGlyphs">contents must be analyzed to determine the level</text>
<text x="662.2" y="809.6" font-family="Liberation Serif" font-size="23" font-weight="normal" fill="#151515" textLength="490.8" lengthAdjust="spacingAndGlyphs">of fire hazard. After determining the hazard clas-</text>
<text x="662.2" y="834.6" font-family="Liberation Serif" font-size="23" font-weight="normal" fill="#151515" textLength="490.8" lengthAdjust="spacingAndGlyphs">sification, a design area and density can be found by</text>
<text x="662.2" y="859.6" font-family="Liberation Serif" font-size="23" font-weight="normal" fill="#151515" textLength="490.8" lengthAdjust="spacingAndGlyphs">referencing tables in NFPA 13 (see Figure 1-16). The</text>
<text x="662.2" y="884.6" font-family="Liberation Serif" font-size="23" font-weight="normal" fill="#151515" textLength="490.8" lengthAdjust="spacingAndGlyphs">design area is a theoretical area of the building repre-</text>
<text x="662.2" y="909.6" font-family="Liberation Serif" font-size="23" font-weight="normal" fill="#151515" textLength="490.8" lengthAdjust="spacingAndGlyphs">senting the worst-case area where a fire could burn.</text>
<text x="662.2" y="934.6" font-family="Liberation Serif" font-size="23" font-weight="normal" fill="#151515" textLength="490.8" lengthAdjust="spacingAndGlyphs">The design density is a measurement of how much</text>
<text x="662.2" y="959.6" font-family="Liberation Serif" font-size="23" font-weight="normal" fill="#151515" textLength="490.8" lengthAdjust="spacingAndGlyphs">water (in gpm) per square foot of floor area should be</text>
<text x="662.2" y="984.6" font-family="Liberation Serif" font-size="23" font-weight="normal" fill="#151515" textLength="490.8" lengthAdjust="spacingAndGlyphs">applied to the design area. Through tests and stud-</text>
<text x="662.2" y="1009.6" font-family="Liberation Serif" font-size="23" font-weight="normal" fill="#151515" textLength="490.8" lengthAdjust="spacingAndGlyphs">ies, NFPA, FM Global, Industrial Risk Insurers, and</text>
<text x="122.9" y="1256.8" font-family="Liberation Serif" font-size="23" font-weight="normal" fill="#151515" textLength="491.6" lengthAdjust="spacingAndGlyphs">a supplemental fire detection system installed in the</text>
<text x="122.9" y="1281.8" font-family="Liberation Serif" font-size="23" font-weight="normal" fill="#151515" textLength="491.6" lengthAdjust="spacingAndGlyphs">same areas as the sprinklers. Operation of the fire de-</text>
<text x="122.9" y="1306.8" font-family="Liberation Serif" font-size="23" font-weight="normal" fill="#151515" textLength="491.6" lengthAdjust="spacingAndGlyphs">tection system, as by a fire, actuates tripping devices</text>
<text x="122.9" y="1331.8" font-family="Liberation Serif" font-size="23" font-weight="normal" fill="#151515" textLength="491.6" lengthAdjust="spacingAndGlyphs">that open dry pipe valves simultaneously and without</text>
<text x="122.9" y="1356.8" font-family="Liberation Serif" font-size="23" font-weight="normal" fill="#151515" textLength="491.6" lengthAdjust="spacingAndGlyphs">loss of air pressure in the system. Operation of the</text>
<text x="122.9" y="1381.8" font-family="Liberation Serif" font-size="23" font-weight="normal" fill="#151515" textLength="491.6" lengthAdjust="spacingAndGlyphs">fire detection system also opens approved air-exhaust</text>
<text x="122.9" y="1406.8" font-family="Liberation Serif" font-size="23" font-weight="normal" fill="#151515" textLength="491.6" lengthAdjust="spacingAndGlyphs">valves at the end of the feed main, which facilitates</text>
<text x="122.9" y="1431.8" font-family="Liberation Serif" font-size="23" font-weight="normal" fill="#151515" textLength="491.6" lengthAdjust="spacingAndGlyphs">the filling of the system with water, usually preceding</text>
<text x="122.9" y="1456.8" font-family="Liberation Serif" font-size="23" font-weight="normal" fill="#151515" textLength="491.6" lengthAdjust="spacingAndGlyphs">the opening of sprinklers. The fire detection system</text>
<text x="122.9" y="1481.8" font-family="Liberation Serif" font-size="23" font-weight="normal" fill="#151515" textLength="491.6" lengthAdjust="spacingAndGlyphs">also serves as an automatic, early warning fire alarm</text>
<text x="122.9" y="1506.8" font-family="Liberation Serif" font-size="23" font-weight="normal" fill="#151515" textLength="491.6" lengthAdjust="spacingAndGlyphs">system. These systems are intended to be applied to</text>
<text x="122.9" y="1531.8" font-family="Liberation Serif" font-size="23" font-weight="normal" fill="#151515" textLength="491.6" lengthAdjust="spacingAndGlyphs">unusual structures, such as piers or wharves that</text>
<text x="122.9" y="1556.8" font-family="Liberation Serif" font-size="23" font-weight="normal" fill="#151515" textLength="337.1" lengthAdjust="spacingAndGlyphs">require unusually long runs of pipe.</text>
<text x="185.9" y="660.5" font-family="Liberation Sans" font-size="20" font-weight="bold" fill="#1a1a1a" textLength="92.3" lengthAdjust="spacingAndGlyphs">Figure 1-13</text>
<text x="301.5" y="660.5" font-family="Liberation Sans" font-size="20" font-weight="bold" fill="#1a1a1a" textLength="401.5" lengthAdjust="spacingAndGlyphs">Deluge Valve with Single Differential Diaphragm</text>
<text x="122.4" y="679.5" font-family="Liberation Sans" font-size="14.5" font-weight="normal" fill="#333" textLength="139.5" lengthAdjust="spacingAndGlyphs">Source: Reliable Sprinkler</text>
<text x="128.3" y="1153.7" font-family="Liberation Sans" font-size="20" font-weight="bold" fill="#1a1a1a" textLength="91.6" lengthAdjust="spacingAndGlyphs">Figure 1-14</text>
<text x="244" y="1153.7" font-family="Liberation Sans" font-size="20" font-weight="bold" fill="#1a1a1a" textLength="368.6" lengthAdjust="spacingAndGlyphs">Deluge Valve with Outlet Pressure Regulator</text>
<text x="686.9" y="1549.6" font-family="Liberation Sans" font-size="20" font-weight="bold" fill="#1a1a1a" textLength="92.1" lengthAdjust="spacingAndGlyphs">Figure 1-15</text>
<text x="801.5" y="1549.6" font-family="Liberation Sans" font-size="20" font-weight="bold" fill="#1a1a1a" textLength="324.0" lengthAdjust="spacingAndGlyphs">Antifreeze System Piping Arrangement</text>
<text x="659.2" y="1568.9" font-family="Liberation Sans" font-size="14.5" font-weight="normal" fill="#333" textLength="92.8" lengthAdjust="spacingAndGlyphs">Source: NFPA 13</text>
</g>
</svg>
</body></html>
